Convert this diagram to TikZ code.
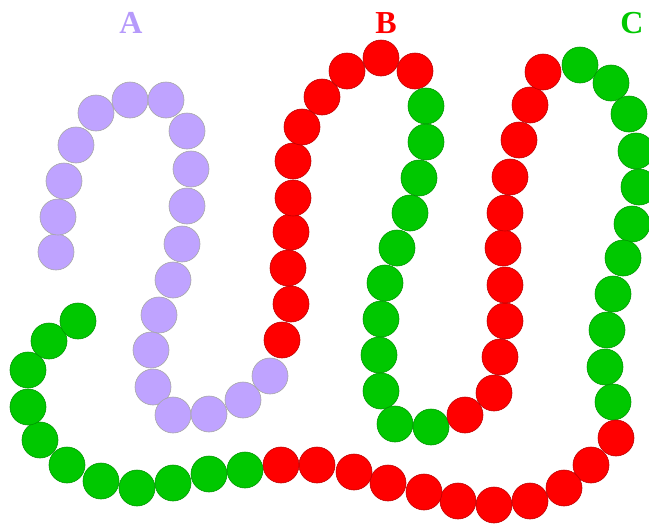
\documentclass[tikz,border=0pt]{standalone}
\usepackage{fontspec}
\setmainfont{Liberation Serif}
\definecolor{lav}{HTML}{BFA3FF}
\definecolor{lavtxt}{HTML}{B69AFB}
\definecolor{rd}{HTML}{FF0000}
\definecolor{gr}{HTML}{00C800}
\begin{document}
\begin{tikzpicture}[x=1pt,y=-1pt,
  bead/.style={circle,minimum size=36pt,inner sep=0pt,line width=0.6pt},
  pb/.style={bead,fill=lav,draw=black!35},
  rb/.style={bead,fill=rd,draw=rd!75!black},
  gb/.style={bead,fill=gr,draw=gr!75!black},
  lbl/.style={font=\fontsize{32}{32}\selectfont\bfseries}]
\useasboundingbox (0,0) rectangle (649,523);
\node[lbl,text=lavtxt] (lA) at (131,23) {A};
\node[lbl,text=rd] (lB) at (386,23) {B};
\node[lbl,text=gr] (lC) at (632,23) {C};
% purple chain A
\foreach \x/\y [count=\i] in {56/252,58/217,64/181,76/145,96/113,130/100,166/100,187/131,191/169,187/206,182/244,173/280,159/315,151/350,153/387,173/415,209/414,243/400,270/376}
  \node[pb] (a\i) at (\x,\y) {};
% red chain B
\foreach \x/\y [count=\i] in {282/340,291/304,288/268,291/232,293/198,293/161,302/127,322/97,347/71,381/58,415/71}
  \node[rb] (b\i) at (\x,\y) {};
% green chain under B
\foreach \x/\y [count=\i] in {426/106,426/142,419/178,410/213,397/248,385/283,381/319,379/355,381/391,395/424,431/427}
  \node[gb] (g\i) at (\x,\y) {};
% red chain C column
\foreach \x/\y [count=\i] in {465/415,494/393,500/357,505/321,505/285,503/248,505/213,510/177,519/140,530/105,543/72}
  \node[rb] (r\i) at (\x,\y) {};
% green chain C
\foreach \x/\y [count=\i] in {580/65,611/83,629/114,636/151,639/187,632/224,623/258,613/294,607/330,605/367,613/402}
  \node[gb] (c\i) at (\x,\y) {};
% bottom red chain
\foreach \x/\y [count=\i] in {616/438,591/465,564/488,530/501,494/505,458/501,424/492,388/483,354/472,317/465,281/465}
  \node[rb] (d\i) at (\x,\y) {};
% bottom green chain
\foreach \x/\y [count=\i] in {245/470,209/474,173/483,137/488,101/481,67/465,40/440,28/407,28/370,49/341,78/321}
  \node[gb] (e\i) at (\x,\y) {};
\end{tikzpicture}
\end{document}
